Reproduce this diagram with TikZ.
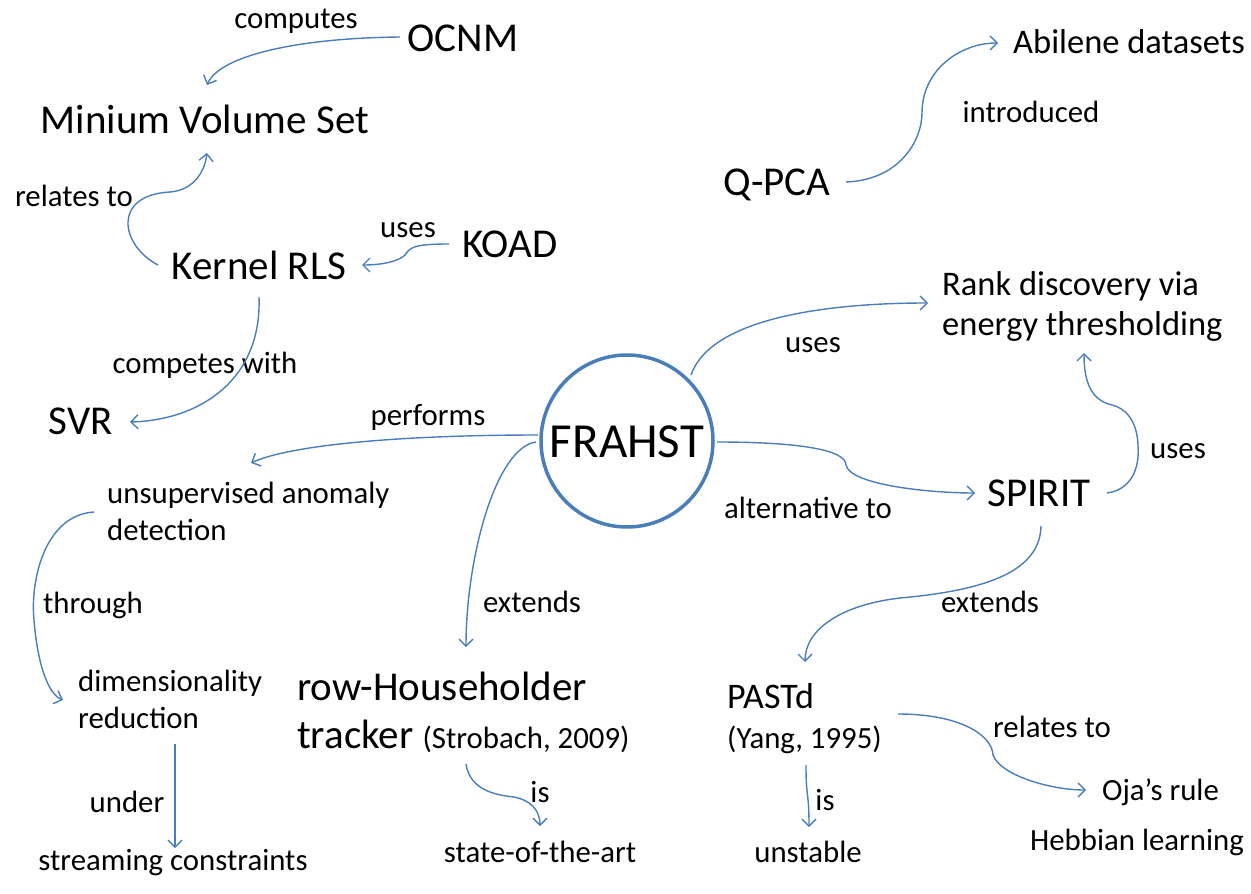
\documentclass[tikz,border=0pt]{standalone}
\usepackage{fontspec}
\setmainfont{Carlito}
\usetikzlibrary{arrows.meta}
\definecolor{linkblue}{RGB}{74,126,187}
\tikzset{
  lbl/.style={inner sep=0pt, anchor=base, font=\fontsize{30.8}{37}\selectfont},
  midtxt/.style={inner sep=0pt, font=\fontsize{34.5}{40}\selectfont},
  bigtxt/.style={inner sep=0pt, anchor=base, font=\fontsize{41}{48}\selectfont},
  smalltxt/.style={inner sep=0pt, font=\fontsize{30.8}{37}\selectfont},
  conn/.style={draw=linkblue, line width=1.4pt, -{Straight Barb[length=7pt,width=14pt]}},
}
\begin{document}
\begin{tikzpicture}[x=1pt,y=-1pt]
\useasboundingbox (0,0) rectangle (1251,894);
% nodes
\node[lbl] (computes) at (296,28) {computes};
\node[bigtxt] (ocnm) at (463,51) {OCNM};
\node[bigtxt] (mvs) at (205,133) {Minium Volume Set};
\node[lbl] (lrel) at (74,206) {relates to};
\node[lbl] (kuses) at (408,237) {uses};
\node[bigtxt] (koad) at (510,257) {KOAD};
\node[bigtxt] (krls) at (259,279) {Kernel RLS};
\node[lbl] (comp) at (205,373) {competes with};
\node[bigtxt] (svr) at (81,434) {SVR};
\node[lbl] (perf) at (428,425) {performs};
\node[circle, draw=linkblue, line width=3.5pt, minimum size=172pt, inner sep=0pt] (frahstc) at (627,441) {};
\node[inner sep=0pt, anchor=base, font=\fontsize{49}{56}\selectfont] (frahst) at (627,457) {FRAHST};
\node[smalltxt, anchor=base west, align=left] (uad) at (107,540) {unsupervised anomaly\\detection};
\node[lbl] (through) at (93,613) {through};
\node[smalltxt, anchor=base west, align=left] (dr) at (78,728) {dimensionality\\reduction};
\node[lbl] (under) at (127,812) {under};
\node[lbl] (stream) at (173,870) {streaming constraints};
\node[lbl] (extl) at (532,612) {extends};
\node[inner sep=0pt, anchor=base west, align=left, font=\fontsize{41}{48}\selectfont] (rhh) at (297,748) {row-Householder\\tracker {\fontsize{30.8}{37}\selectfont(Strobach, 2009)}};
\node[lbl] (isl) at (540,802) {is};
\node[lbl] (sota) at (540,862) {state-of-the-art};
\node[bigtxt] (qpca) at (777,195) {Q-PCA};
\node[lbl] (intro) at (1031,122) {introduced};
\node[midtxt, anchor=base west] (abilene) at (1013,53) {Abilene datasets};
\node[midtxt, anchor=base west, align=left] (rank) at (942,335) {Rank discovery via\\energy thresholding};
\node[lbl] (usesa) at (813,352) {uses};
\node[lbl] (usesb) at (1178,458) {uses};
\node[bigtxt] (spirit) at (1039,506) {SPIRIT};
\node[lbl] (alt) at (808,518) {alternative to};
\node[lbl] (extr) at (990,612) {extends};
\node[inner sep=0pt, anchor=base west, align=left, font=\fontsize{36}{40}\selectfont] (pastd) at (727,748) {PASTd\\{\fontsize{30.8}{40}\selectfont(Yang, 1995)}};
\node[lbl] (relr) at (1052,737) {relates to};
\node[smalltxt, anchor=base west] (oja) at (1102,800) {Oja’s rule};
\node[smalltxt, anchor=base west] (hebb) at (1030,850) {Hebbian learning};
\node[lbl] (isr) at (825,810) {is};
\node[lbl] (unst) at (808,862) {unstable};
% connector end points
\coordinate (ocnm-o) at (400,37);
\coordinate (mvs-top) at (207,85);
\coordinate (krls-l) at (158,265);
\coordinate (mvs-bot) at (207,153);
\coordinate (koad-o) at (449,244);
\coordinate (krls-r) at (362,265);
\coordinate (krls-b) at (259,297);
\coordinate (svr-r) at (130,422);
\coordinate (fr-l1) at (538,435);
\coordinate (uad-t) at (251,463);
\coordinate (fr-l2) at (536,442);
\coordinate (rhh-t) at (466,647);
\coordinate (uad-l) at (94,512);
\coordinate (dr-l) at (63,700);
\coordinate (dr-b) at (175,744);
\coordinate (stream-t) at (175,848);
\coordinate (rhh-b) at (466,764);
\coordinate (sota-t) at (540,826);
\coordinate (fr-tr) at (691,375);
\coordinate (rank-l) at (928,303);
\coordinate (fr-r) at (717,442);
\coordinate (spirit-l) at (975,493);
\coordinate (spirit-r) at (1107,493);
\coordinate (rank-b) at (1084,353);
\coordinate (spirit-b) at (1041,526);
\coordinate (pastd-t) at (805,662);
\coordinate (pastd-b) at (806,765);
\coordinate (unst-t) at (809,827);
\coordinate (pastd-r) at (898,714);
\coordinate (oja-l) at (1086,790);
\coordinate (qpca-r) at (846,182);
\coordinate (abilene-l) at (998,43);
% connectors
\draw[conn] (ocnm-o) .. controls (300,38) and (220,55) .. (mvs-top);
\draw[conn] (krls-l) .. controls (120,245) and (112,195) .. (170,192) .. controls (195,190) and (205,170) .. (mvs-bot);
\draw[conn] (koad-o) .. controls (412,244) and (410,248) .. (405,255) .. controls (398,262) and (380,265) .. (krls-r);
\draw[conn] (krls-b) .. controls (262,380) and (200,420) .. (svr-r);
\draw[conn] (fr-l1) .. controls (400,435) and (290,445) .. (uad-t);
\draw[conn] (fr-l2) .. controls (495,448) and (466,560) .. (rhh-t);
\draw[conn] (uad-l) .. controls (45,515) and (30,580) .. (34,620) .. controls (38,670) and (50,695) .. (dr-l);
\draw[conn] (dr-b) -- (stream-t);
\draw[conn] (rhh-b) .. controls (470,790) and (495,795) .. (514,797) .. controls (530,800) and (540,810) .. (sota-t);
\draw[conn] (fr-tr) .. controls (710,320) and (820,303) .. (rank-l);
\draw[conn] (fr-r) .. controls (800,442) and (846,450) .. (846,465) .. controls (850,485) and (930,493) .. (spirit-l);
\draw[conn] (spirit-r) .. controls (1130,490) and (1140,470) .. (1138,445) .. controls (1137,420) and (1125,408) .. (1112,405) .. controls (1090,400) and (1084,380) .. (rank-b);
\draw[conn] (spirit-b) .. controls (1040,570) and (990,590) .. (900,598) .. controls (840,605) and (805,630) .. (pastd-t);
\draw[conn] (pastd-b) .. controls (806,800) and (809,790) .. (unst-t);
\draw[conn] (pastd-r) .. controls (960,714) and (992,735) .. (993,755) .. controls (1000,775) and (1050,790) .. (oja-l);
\draw[conn] (qpca-r) .. controls (900,180) and (922,140) .. (922,113) .. controls (922,70) and (960,43) .. (abilene-l);
\end{tikzpicture}
\end{document}
